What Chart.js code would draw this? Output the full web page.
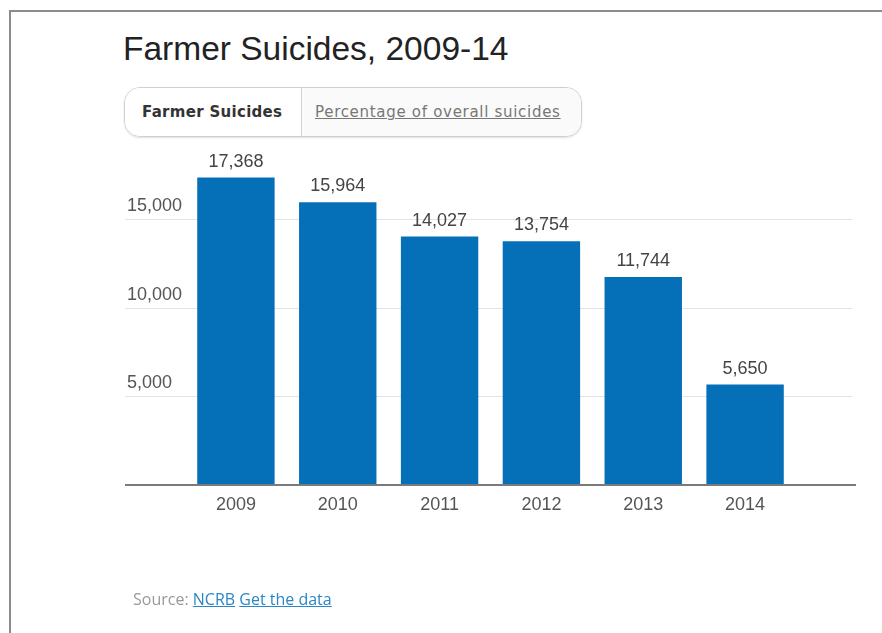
<!DOCTYPE html>
<html>
<head>
<meta charset="utf-8">
<script src="https://cdn.jsdelivr.net/npm/chart.js@4"></script>
<style>
  html, body { margin: 0; padding: 0; background: #fff; }
  body { width: 882px; height: 633px; position: relative; overflow: hidden; font-family: "Liberation Sans", Arial, sans-serif; }
  #frame { position: absolute; left: 9px; top: 10px; right: 0; bottom: 0; border-top: 2px solid #8c8c8c; border-left: 2px solid #8c8c8c; }
  #title { position: absolute; left: 123px; top: 32px; font-size: 33.5px; line-height: 1; color: #222; white-space: nowrap; }
  #tabs { position: absolute; left: 124px; top: 87px; width: 456px; height: 48px; border: 1px solid #cfcfcf; border-radius: 16px; box-shadow: 0 1px 2px rgba(0,0,0,0.12); overflow: hidden; display: flex; }
  #tab1 { width: 177px; border-right: 1px solid #d5d5d5; background: #fff; font-family: "DejaVu Sans", sans-serif; font-weight: bold; font-size: 15px; letter-spacing: 0.3px; color: #333; line-height: 48px; padding-left: 17px; box-sizing: border-box; white-space: nowrap; }
  #tab2 { flex: 1; background: #fafafa; font-family: "DejaVu Sans", sans-serif; font-size: 15px; letter-spacing: 0.7px; color: #777; line-height: 48px; padding-left: 13px; text-decoration: underline; white-space: nowrap; }
  #chart { position: absolute; left: 0; top: 0; }
  #source { position: absolute; left: 133px; top: 588px; font-family: "Open Sans", sans-serif; font-size: 16px; color: #999; white-space: nowrap; }
  #source a { color: #2a86c8; text-decoration: underline; }
</style>
</head>
<body>
<div id="frame"></div>
<div id="title">Farmer Suicides, 2009-14</div>
<div id="tabs"><div id="tab1">Farmer Suicides</div><div id="tab2">Percentage of overall suicides</div></div>
<canvas id="chart" width="882" height="633"></canvas>
<div id="source">Source: <a>NCRB</a> <a>Get the data</a></div>
<script>
var years = ["2009", "2010", "2011", "2012", "2013", "2014"];
var suicides = [17368, 15964, 14027, 13754, 11744, 5650];
var yTicks = [5000, 10000, 15000];
var yTickLabels = ["5,000", "10,000", "15,000"];

/* gridlines and y labels across the full width, like the original */
var gridPlugin = {
  id: "fullGrid",
  beforeDatasetsDraw: function (chart) {
    var ctx = chart.ctx;
    var y = chart.scales.y;
    ctx.save();
    ctx.strokeStyle = "#e3e3e3";
    ctx.lineWidth = 1;
    ctx.font = "18px 'Liberation Sans', Arial, sans-serif";
    ctx.fillStyle = "#555";
    ctx.textAlign = "left";
    ctx.textBaseline = "alphabetic";
    yTicks.forEach(function (v, i) {
      var py = Math.round(y.getPixelForValue(v)) + 0.5;
      ctx.beginPath();
      ctx.moveTo(125, py);
      ctx.lineTo(852, py);
      ctx.stroke();
      ctx.fillText(yTickLabels[i], 127, py - 9);
    });
    ctx.restore();
  },
  afterDatasetsDraw: function (chart) {
    var ctx = chart.ctx;
    var y = chart.scales.y;
    var base = Math.round(y.getPixelForValue(0)) + 1;
    ctx.save();
    ctx.strokeStyle = "#7a7a7a";
    ctx.lineWidth = 2;
    ctx.beginPath();
    ctx.moveTo(125, base);
    ctx.lineTo(856, base);
    ctx.stroke();

    // value labels over bars
    var meta = chart.getDatasetMeta(0);
    ctx.font = "18px 'Liberation Sans', Arial, sans-serif";
    ctx.fillStyle = "#444";
    ctx.textAlign = "center";
    ctx.textBaseline = "alphabetic";
    meta.data.forEach(function (bar, i) {
      ctx.fillText(suicides[i].toLocaleString("en-US"), bar.x, bar.y - 11);
    });
    ctx.restore();
  }
};

new Chart(document.getElementById("chart"), {
  type: "bar",
  data: {
    labels: years,
    datasets: [{
      label: "Farmer Suicides",
      data: suicides,
      backgroundColor: "#0570b7",
      borderWidth: 0,
      categoryPercentage: 1,
      barPercentage: 0.76
    }]
  },
  options: {
    responsive: false,
    animation: false,
    devicePixelRatio: 1,
    layout: { padding: { left: 185, right: 86, top: 131, bottom: 107 } },
    plugins: { legend: { display: false }, tooltip: { enabled: false } },
    scales: {
      x: {
        grid: { display: false, drawTicks: false },
        border: { display: false },
        ticks: { color: "#555", font: { family: "'Liberation Sans', Arial, sans-serif", size: 18 }, padding: 10 }
      },
      y: {
        display: false,
        min: 0,
        max: 20000
      }
    }
  },
  plugins: [gridPlugin]
});
</script>
</body>
</html>
